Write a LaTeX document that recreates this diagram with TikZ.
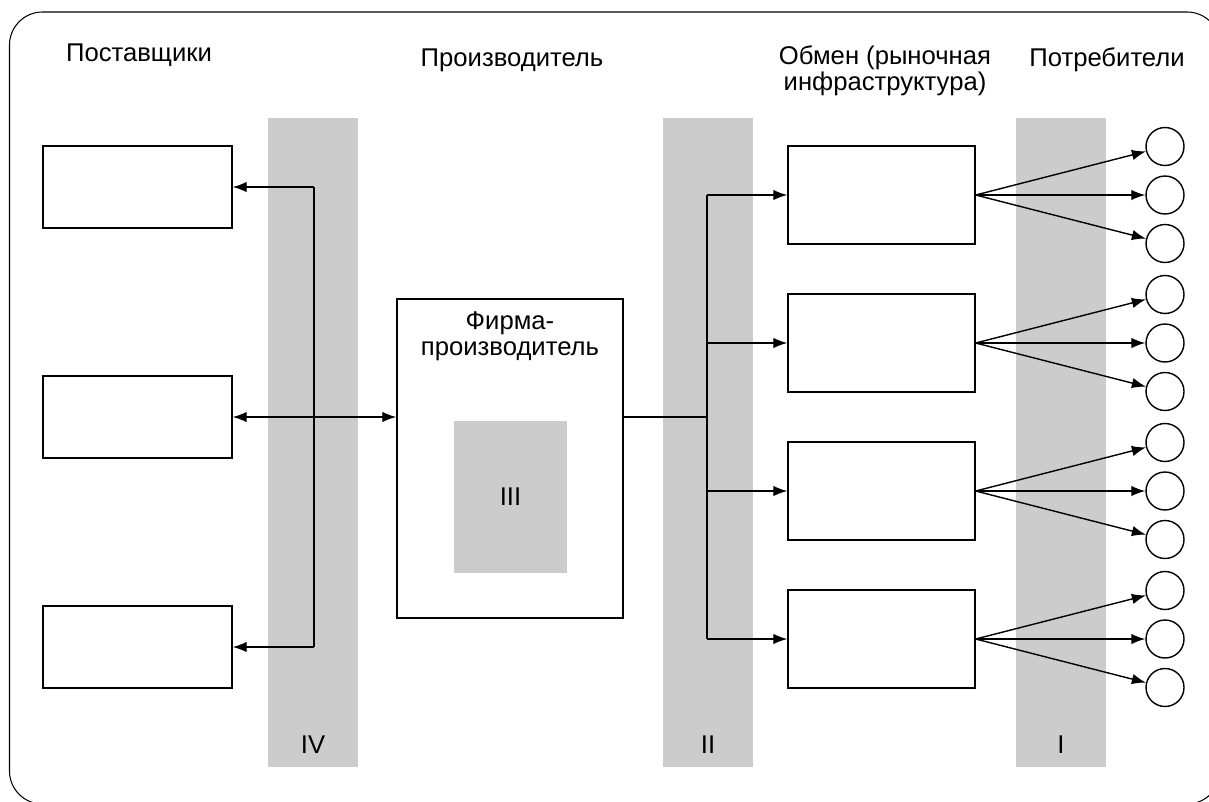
\documentclass[tikz,border=0pt]{standalone}
\usepackage{fontspec}
\setmainfont{Liberation Sans}
\usetikzlibrary{positioning}
\usetikzlibrary{arrows.meta}
\tikzstyle{line} = [draw, -{Latex[length=8pt,width=6pt]}]
\tikzstyle{dline} = [draw, {Latex[length=8pt,width=6pt]}-{Latex[length=8pt,width=6pt]}]
\definecolor{grisbande}{rgb}{0.8,0.8,0.8}

\begin{document}
\begin{tikzpicture}[x=0.02cm, y=-0.02cm, line width=0.8pt,
				font=\fontsize{14.6}{13.4}\selectfont,
				supplier/.style = {draw, fill=white, inner sep=0pt,
					minimum width=3.78cm, minimum height=1.64cm},
				market/.style = {draw, fill=white, inner sep=0pt,
					minimum width=3.74cm, minimum height=1.96cm},
				client/.style = {circle, draw, fill=white, inner sep=0pt,
					minimum size=0.76cm},
				band/.style = {fill=grisbande}]
				
				\useasboundingbox (0,0) rectangle (1209,801);
				\clip (0,0) rectangle (1209,801);
				
				% Frame
				\draw[line width=0.6pt, rounded corners=0.66cm] (9.5,12) rectangle (1220,804);
				
				% Bands
				\fill[band] (268,118) rectangle (358,767);
				\fill[band] (663,118) rectangle (753,767);
				\fill[band] (1016,118) rectangle (1106,767);
				\node[anchor=base] (bandIV) at (313,753) {IV};
				\node[anchor=base] (bandII) at (708,753) {II};
				\node[anchor=base] (bandI) at (1061,753) {I};
				
				% Headings
				\node[anchor=base] (hsup) at (139,61) {Поставщики};
				\node[anchor=base] (hprod) at (512,66) {Производитель};
				\node[align=center] (hmarket) at (885,71) {Обмен (рыночная\\инфраструктура)};
				\node[anchor=base] (hcons) at (1107,66) {Потребители};
				
				% Suppliers
				\node[supplier] (sup1) at (137.5,187) {};
				\node[supplier] (sup2) at (137.5,417) {};
				\node[supplier] (sup3) at (137.5,647) {};
				
				% Producer
				\node[draw, minimum width=4.52cm, minimum height=6.38cm] (firm) at (510,458.5) {};
				\node[below=0.14cm of firm.north, align=center] (firmlabel) {Фирма-\\[1.5pt]производитель};
				\node[fill=grisbande, minimum width=2.26cm, minimum height=3.04cm] (core) at (510.5,497) {III};
				
				% Exchange
				\node[market] (mkt1) at (881.5,195) {};
				\node[market] (mkt2) at (881.5,343) {};
				\node[market] (mkt3) at (881.5,491) {};
				\node[market] (mkt4) at (881.5,639) {};
				
				% Consumers
				\node[client] (c1a) at (1165,146.5) {};
				\node[client] (c1b) at (1165,195) {};
				\node[client] (c1c) at (1165,243.5) {};
				\node[client] (c2a) at (1165,294.5) {};
				\node[client] (c2b) at (1165,343) {};
				\node[client] (c2c) at (1165,391.5) {};
				\node[client] (c3a) at (1165,442.5) {};
				\node[client] (c3b) at (1165,491) {};
				\node[client] (c3c) at (1165,539.5) {};
				\node[client] (c4a) at (1165,590.5) {};
				\node[client] (c4b) at (1165,639) {};
				\node[client] (c4c) at (1165,687.5) {};
				
				% Supplier links
				\coordinate (busT) at (314,187);
				\coordinate (busB) at (314,647);
				\draw (busT) -- (busB);
				\draw[line] (busT) -- (sup1.east);
				\draw[line] (busB) -- (sup3.east);
				\draw[dline] (sup2.east) -- (sup2.east -| firm.west);
				
				% Market links
				\coordinate (split) at (707,417);
				\draw (split -| firm.east) -- (split);
				\draw (split |- mkt1.west) -- (split |- mkt4.west);
				\draw[line] (split |- mkt1.west) -- (mkt1.west);
				\draw[line] (split |- mkt2.west) -- (mkt2.west);
				\draw[line] (split |- mkt3.west) -- (mkt3.west);
				\draw[line] (split |- mkt4.west) -- (mkt4.west);
				
				% Consumer links
				\draw[line] (mkt1.east) -- (c1a);
				\draw[line] (mkt1.east) -- (c1b);
				\draw[line] (mkt1.east) -- (c1c);
				\draw[line] (mkt2.east) -- (c2a);
				\draw[line] (mkt2.east) -- (c2b);
				\draw[line] (mkt2.east) -- (c2c);
				\draw[line] (mkt3.east) -- (c3a);
				\draw[line] (mkt3.east) -- (c3b);
				\draw[line] (mkt3.east) -- (c3c);
				\draw[line] (mkt4.east) -- (c4a);
				\draw[line] (mkt4.east) -- (c4b);
				\draw[line] (mkt4.east) -- (c4c);
				
			\end{tikzpicture}
\end{document}
